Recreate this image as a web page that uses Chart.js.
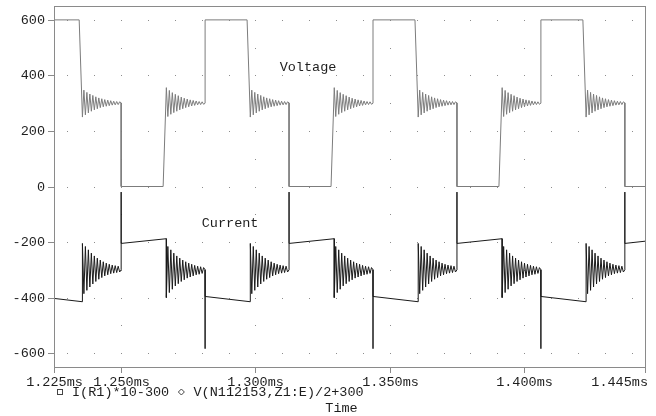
<!DOCTYPE html>
<html>
<head>
<meta charset="utf-8">
<script src="https://cdn.jsdelivr.net/npm/chart.js@4/dist/chart.umd.min.js"></script>
<style>
  html, body { margin: 0; padding: 0; background: #fff; }
  canvas { display: block; }
</style>
</head>
<body>
<canvas id="plot" width="656" height="416"></canvas>
<script>
// ---- Converter switching waveforms (time in ms) ----

// Start of each switching stage and the kind of stage it is
const segStart = [1.225, 1.234375, 1.25, 1.265625, 1.28125, 1.296875, 1.3125, 1.328125,
                  1.34375, 1.359375, 1.375, 1.390625, 1.40625, 1.421875, 1.4375];
const segKind  = ['high', 'fall', 'low', 'rise', 'high', 'fall', 'low', 'rise',
                  'high', 'fall', 'low', 'rise', 'high', 'fall', 'low'];
const tEnd = 1.445;
const edgeTime = 0.0012;          // duration of a voltage edge before the ringing

// V(N112153,Z1:E)/2+300 levels
const vHigh = 600;
const vLow = 0;
// ringing extremes after leaving the high level / the low level
const vRingFall = [250, 347, 258, 339, 265, 333, 271, 328, 276, 323, 280, 319, 284, 316,
                   287, 313, 289, 311, 291, 309, 293, 307, 294, 306, 295, 305, 301];
const vRingRise = [356, 252, 346, 260, 338, 266, 332, 271, 327, 276, 322, 280, 318, 284,
                   315, 287, 312, 290, 310, 292, 308, 294, 306, 295, 305, 296, 300];

// I(R1)*10-300: start / end value on each flat stage (high, low, high, low ...)
const iFlat = [[-403, -415], [-205, -188], [-396, -415], [-205, -188],
               [-396, -415], [-205, -188], [-396, -415], [-205, -197]];
const iSpikeHigh = -584;          // spike when the voltage returns to the high level
const iSpikeLow = -20;            // spike when the voltage drops to the low level
const iRingFall = [-205, -386, -216, -374, -228, -362, -240, -351, -250, -342, -258, -334,
                   -265, -328, -271, -322, -276, -318, -280, -314, -283, -312, -285, -310,
                   -287, -308, -300];
const iRingRise = [-400, -216, -382, -228, -370, -240, -358, -250, -350, -258, -342, -265,
                   -336, -271, -330, -276, -326, -280, -322, -284, -318, -287, -316, -289,
                   -313, -292, -300];

// Axes
const xTicks = [1.225, 1.25, 1.30, 1.35, 1.40, 1.445];
const xTickLabels = ['1.225ms', '1.250ms', '1.300ms', '1.350ms', '1.400ms', '1.445ms'];
const xGridMajor = [1.25, 1.30, 1.35, 1.40];
const xGridMinor = [1.23, 1.24, 1.25, 1.26, 1.27, 1.28, 1.29, 1.30, 1.31, 1.32, 1.33,
                    1.34, 1.35, 1.36, 1.37, 1.38, 1.39, 1.40, 1.41, 1.42, 1.43, 1.44];
const yTicks = [-600, -400, -200, 0, 200, 400, 600];
const yTickLabels = ['-600', '-400', '-200', '0', '200', '400', '600'];
const yGridMinor = [-600, -500, -400, -300, -200, -100, 0, 100, 200, 300, 400, 500, 600];

const traceNames = ['I(R1)*10-300', 'V(N112153,Z1:E)/2+300'];
const axisTitle = 'Time';
const notes = [
  { text: 'Voltage', x: 1.3090, y: 428 },
  { text: 'Current', x: 1.2800, y: -134 }
];

// Assemble both traces stage by stage
function buildTraces() {
  const volt = [], curr = [];
  let flat = 0;
  for (let k = 0; k < segKind.length; k++) {
    const t0 = segStart[k];
    const last = k === segKind.length - 1;
    const t1 = last ? tEnd : segStart[k + 1];
    const kind = segKind[k];
    if (kind === 'high' || kind === 'low') {
      const level = kind === 'high' ? vHigh : vLow;
      const [ia, ib] = iFlat[flat++];
      volt.push({ x: t0, y: level });
      volt.push({ x: t1, y: level });
      if (k > 0) curr.push({ x: t0, y: kind === 'high' ? iSpikeHigh : iSpikeLow });
      curr.push({ x: t0, y: ia });
      curr.push({ x: last ? tEnd : t1 + edgeTime, y: ib });
    } else {
      const vr = kind === 'fall' ? vRingFall : vRingRise;
      const ir = kind === 'fall' ? iRingFall : iRingRise;
      const step = (t1 - t0 - edgeTime) / (vr.length - 1);
      for (let i = 0; i < vr.length; i++) {
        const t = t0 + edgeTime + i * step;
        volt.push({ x: t, y: vr[i] });
        curr.push({ x: t, y: ir[i] });
      }
    }
  }
  return { volt, curr };
}
const traces = buildTraces();

const FONT = "13.5px 'Liberation Mono', 'DejaVu Sans Mono', monospace";
const INK = '#1e1e1e';
const FRAME = '#8a8a8a';
const DOT = '#8c8c8c';

const scopeFrame = {
  id: 'scopeFrame',
  beforeDatasetsDraw(chart) {
    const { ctx, scales: { x, y } } = chart;
    ctx.save();
    ctx.fillStyle = DOT;
    // dotted grid rows on the major voltage levels
    for (const yv of yTicks) {
      const py = Math.round(y.getPixelForValue(yv));
      for (const xv of xGridMinor) {
        ctx.fillRect(Math.round(x.getPixelForValue(xv)), py, 1, 1);
      }
    }
    // dotted grid columns on the major time ticks
    for (const xv of xGridMajor) {
      const px = Math.round(x.getPixelForValue(xv));
      for (const yv of yGridMinor) {
        ctx.fillRect(px, Math.round(y.getPixelForValue(yv)), 1, 1);
      }
    }
    ctx.restore();
  },
  afterDatasetsDraw(chart) {
    const { ctx, chartArea: a, scales: { x, y } } = chart;
    const L = Math.round(a.left), R = Math.round(a.right);
    const T = Math.round(a.top), B = Math.round(a.bottom);
    ctx.save();
    ctx.strokeStyle = FRAME;
    ctx.lineWidth = 1;
    ctx.strokeRect(L + 0.5, T + 0.5, R - L, B - T);

    // y ticks and labels
    ctx.font = FONT;
    ctx.fillStyle = INK;
    ctx.textBaseline = 'middle';
    ctx.textAlign = 'right';
    ctx.beginPath();
    yTicks.forEach((v, i) => {
      const py = Math.round(y.getPixelForValue(v)) + 0.5;
      ctx.moveTo(L - 6, py);
      ctx.lineTo(L, py);
      ctx.fillText(yTickLabels[i], L - 9, py);
    });
    // x ticks and labels
    xTicks.forEach((v, i) => {
      const px = Math.round(x.getPixelForValue(v)) + 0.5;
      ctx.moveTo(px, B);
      ctx.lineTo(px, B + 6);
      const w = ctx.measureText(xTickLabels[i]).width;
      let cx = px;
      if (cx + w / 2 > R + 3) cx = R + 3 - w / 2;   // keep the end label inside
      ctx.textAlign = 'center';
      ctx.fillText(xTickLabels[i], cx, B + 15);
    });
    ctx.stroke();

    // trace legend
    const ly = B + 25;
    ctx.textAlign = 'left';
    ctx.strokeStyle = '#444';
    ctx.strokeRect(L + 3.5, ly - 2.5, 5, 5);
    const cw = ctx.measureText('0').width;
    const t1x = L + 18;
    ctx.fillText(traceNames[0], t1x, ly);
    const dx = t1x + (traceNames[0].length + 1.5) * cw;
    ctx.beginPath();
    ctx.moveTo(dx, ly - 3);
    ctx.lineTo(dx + 3, ly);
    ctx.lineTo(dx, ly + 3);
    ctx.lineTo(dx - 3, ly);
    ctx.closePath();
    ctx.stroke();
    ctx.fillText(traceNames[1], t1x + (traceNames[0].length + 3) * cw, ly);

    // axis title
    ctx.textAlign = 'center';
    ctx.fillText(axisTitle, (L + R) / 2 - 8, B + 41);

    // trace notes
    ctx.textAlign = 'left';
    for (const n of notes) {
      ctx.fillText(n.text, x.getPixelForValue(n.x), y.getPixelForValue(n.y));
    }
    ctx.restore();
  }
};

new Chart(document.getElementById('plot'), {
  type: 'line',
  data: {
    datasets: [
      { label: traceNames[0], data: traces.curr, borderColor: '#1a1a1a', borderWidth: 1,
        pointRadius: 0, tension: 0, fill: false },
      { label: traceNames[1], data: traces.volt, borderColor: '#7c7c7c', borderWidth: 1,
        pointRadius: 0, tension: 0, fill: false }
    ]
  },
  options: {
    responsive: false,
    animation: false,
    events: [],
    layout: { padding: { left: 54, right: 11, top: 6, bottom: 49 } },
    plugins: { legend: { display: false }, tooltip: { enabled: false } },
    scales: {
      x: { type: 'linear', min: 1.225, max: 1.445, display: false },
      y: { type: 'linear', min: -650, max: 650, display: false }
    }
  },
  plugins: [scopeFrame]
});
</script>
</body>
</html>
